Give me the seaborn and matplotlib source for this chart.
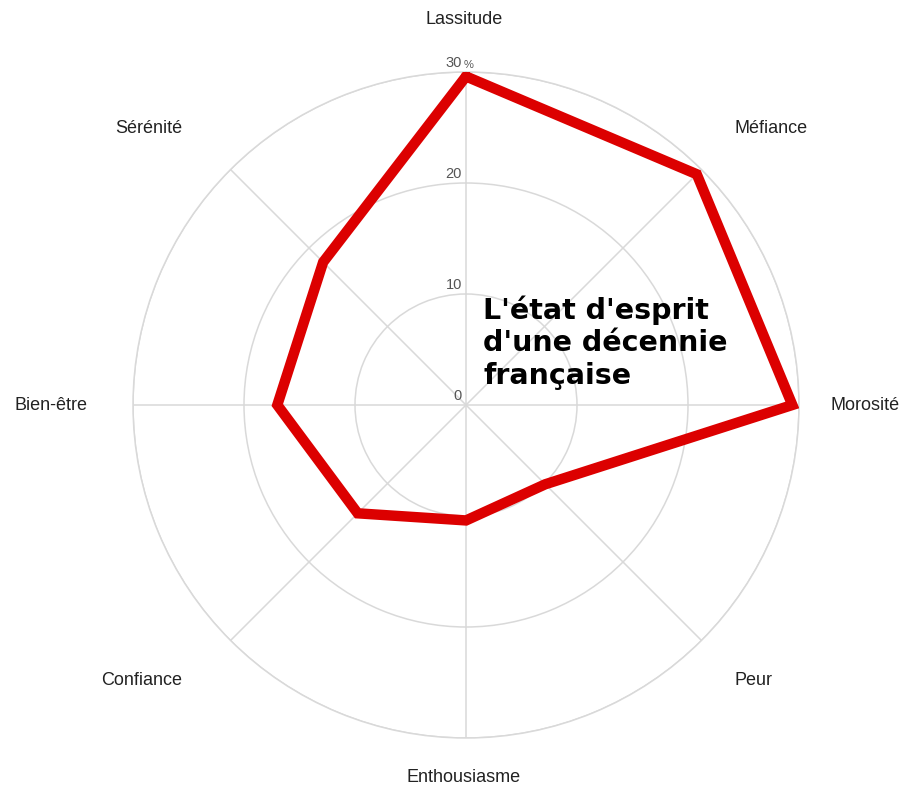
import numpy as np
import matplotlib.pyplot as plt
import seaborn as sns

# valeurs (en %)
categories = ["Lassitude", "Méfiance", "Morosité", "Peur",
              "Enthousiasme", "Confiance", "Bien-être", "Sérénité"]
values = [29.6, 29.4, 29.4, 10.1, 10.4, 13.8, 17.0, 18.2]
rticks = [0, 10, 20, 30]
rtick_labels = ["0", "10", "20", "30"]
title = "L'état d'esprit\nd'une décennie\nfrançaise"

sns.set_theme(style="white")
plt.rcParams['font.family'] = ['Liberation Sans', 'DejaVu Sans']

W, H = 901, 787
cx, cy, R = 466, 405, 333          # centre et rayon en pixels
fig = plt.figure(figsize=(W / 100, H / 100), dpi=100)
ax = fig.add_axes([(cx - R) / W, (H - cy - R) / H, 2 * R / W, 2 * R / H],
                  projection='polar')
ax.set_theta_offset(np.pi / 2)
ax.set_theta_direction(-1)

n = len(categories)
theta = np.linspace(0, 2 * np.pi, n, endpoint=False)
th_closed = np.append(theta, 2 * np.pi)
v_closed = np.append(values, values[0])

grid_col = "#d9d9d9"
sns.lineplot(x=th_closed, y=v_closed, ax=ax, sort=False, color="#dc0000",
             linewidth=7.5, solid_joinstyle='miter', zorder=5)
ax.set_xlabel("")
ax.set_ylabel("")

ax.set_ylim(0, 30)
ax.set_xticks(theta)
ax.set_xticklabels([])
ax.set_yticks(rticks[1:])
ax.set_yticklabels([])
ax.grid(True, color=grid_col, linewidth=1.1)
ax.spines['polar'].set_color(grid_col)
ax.spines['polar'].set_linewidth(1.1)

# étiquettes des catégories, décalées depuis le cercle extérieur
for t, lab in zip(theta, categories):
    s, c = np.sin(t), np.cos(t)
    if abs(s) < 0.1:
        ha, va, dx, dy = 'center', 'center', -2, (52 if c > 0 else -39)
    else:
        ha = 'left' if s > 0 else 'right'
        diag = abs(c) > 0.1
        dx = (33 if diag else 31) if s > 0 else (-48 if diag else -46)
        if diag:
            va, dy = ('bottom', 33) if c > 0 else ('top', -32)
        else:
            va, dy = 'center', 0
    ax.annotate(lab, xy=(t, 30), xytext=(dx, dy), textcoords='offset pixels',
                ha=ha, va=va, fontsize=13, color="#222222",
                annotation_clip=False)

# graduations radiales
for r, lab in zip(rticks, rtick_labels):
    ax.annotate(lab, xy=(0, r), xytext=(-4, 2), textcoords='offset pixels',
                ha='right', va='bottom', fontsize=10.5, color="#555555")
ax.annotate("%", xy=(0, 30), xytext=(-2, 2), textcoords='offset pixels',
            ha='left', va='bottom', fontsize=8, color="#555555")

fig.text(483 / W, 1 - 295 / H, title, ha='left', va='top',
         fontsize=20.5, fontweight='bold', family=['DejaVu Sans'],
         color="#000000", linespacing=1.22)

fig.savefig("out.png", dpi=100)
